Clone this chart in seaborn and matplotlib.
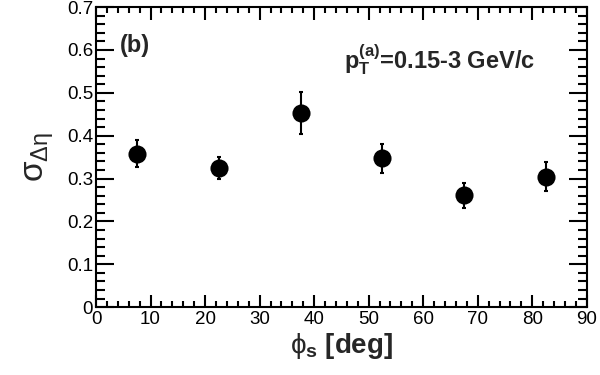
import numpy as np
import pandas as pd
import matplotlib
matplotlib.use("Agg")
import matplotlib.pyplot as plt
from matplotlib.ticker import MultipleLocator
import seaborn as sns

# values
phi_s = [7.5, 22.5, 37.5, 52.5, 67.5, 82.5]
sigma_deta = [0.358, 0.324, 0.453, 0.347, 0.261, 0.304]
sigma_err = [0.032, 0.026, 0.050, 0.033, 0.029, 0.034]

df = pd.DataFrame({"phi_s": phi_s, "sigma": sigma_deta, "err": sigma_err})

sns.set_style("ticks")
plt.rcParams["font.family"] = ["Liberation Sans", "DejaVu Sans"]
plt.rcParams["mathtext.fontset"] = "custom"
plt.rcParams["mathtext.rm"] = "Liberation Sans"
plt.rcParams["mathtext.it"] = "Liberation Sans"
plt.rcParams["mathtext.bf"] = "Liberation Sans:bold"

fig = plt.figure(figsize=(6, 3.75), dpi=100)
ax = fig.add_axes([0.16, 0.181, 0.818, 0.8])

ax.errorbar(df["phi_s"], df["sigma"], yerr=df["err"], fmt="none",
            ecolor="black", elinewidth=1.5, capsize=1.5, capthick=1.5, zorder=2)
sns.scatterplot(data=df, x="phi_s", y="sigma", color="black", s=170,
                edgecolor="black", linewidth=0, ax=ax, zorder=3)

ax.set_xlim(0, 90)
ax.set_ylim(0, 0.7)
ax.xaxis.set_major_locator(MultipleLocator(10))
ax.xaxis.set_minor_locator(MultipleLocator(2))
ax.yaxis.set_major_locator(MultipleLocator(0.1))
ax.yaxis.set_minor_locator(MultipleLocator(0.02))
ax.set_xticklabels([str(int(v)) for v in ax.get_xticks()])
ax.set_yticklabels(["0" if v == 0 else f"{v:.1f}" for v in ax.get_yticks()])

ax.tick_params(which="both", direction="in", top=True, right=True,
               width=1.5, labelsize=13.5, colors="black")
ax.tick_params(axis="y", which="major", length=13, pad=2)
ax.tick_params(axis="y", which="minor", length=6.5)
ax.tick_params(axis="x", which="major", length=9, pad=3)
ax.tick_params(axis="x", which="minor", length=4.5)
for sp in ax.spines.values():
    sp.set_linewidth(1.5)
    sp.set_color("black")

ax.set_xlabel(r"$\phi_\mathbf{s}$ [deg]", fontsize=20, fontweight="bold", labelpad=2)
ax.set_ylabel(r"$\sigma_{\Delta\eta}$", fontsize=24, labelpad=8)

ax.text(0.049, 0.85, "(b)", transform=ax.transAxes, fontsize=17, fontweight="bold")
ax.text(0.505, 0.795, r"$\mathbf{p_T^{(a)}}$=0.15-3 GeV/c", transform=ax.transAxes,
        fontsize=17, fontweight="bold")

fig.savefig("out.png", dpi=100)
